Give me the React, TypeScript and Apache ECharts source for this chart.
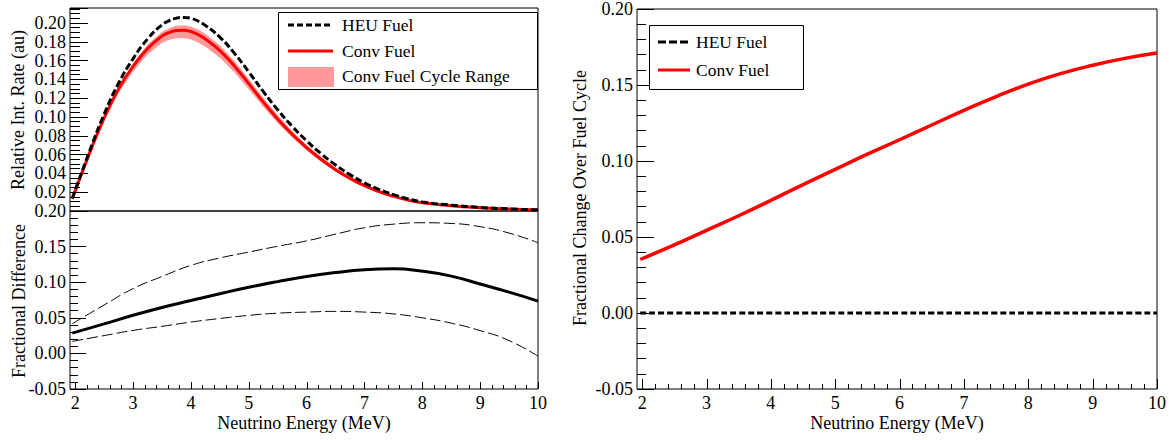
import React, { useEffect, useRef } from "react";
import * as echarts from "echarts";

// ---------- data ----------
const energyTop = [1.95, 2.25, 2.5, 2.75, 3.0, 3.25, 3.5, 3.625, 3.75, 3.875, 4.0, 4.125, 4.25, 4.5, 4.75, 5.0, 5.25, 5.5, 5.75, 6.0, 6.25, 6.5, 6.75, 7.0, 7.25, 7.5, 7.75, 8.0, 8.5, 9.0, 9.5, 10.0];
const heuRate = [0.0135, 0.064, 0.103, 0.136, 0.162, 0.183, 0.198, 0.2025, 0.2052, 0.206, 0.205, 0.202, 0.1975, 0.185, 0.168, 0.148, 0.1272, 0.1077, 0.0902, 0.0747, 0.061, 0.049, 0.0387, 0.030, 0.023, 0.0174, 0.013, 0.0097, 0.0062, 0.0038, 0.0022, 0.0012];
const convRate = [0.0131, 0.0618, 0.0989, 0.1298, 0.1538, 0.1728, 0.1861, 0.1899, 0.192, 0.1923, 0.1909, 0.1876, 0.1830, 0.1707, 0.1544, 0.1355, 0.1161, 0.0979, 0.0817, 0.0675, 0.0550, 0.0440, 0.0347, 0.0269, 0.0206, 0.0156, 0.0116, 0.0087, 0.0056, 0.0035, 0.0020, 0.0011];
const convBandLow = [0.0130, 0.0606, 0.0964, 0.1259, 0.1485, 0.1664, 0.1787, 0.1821, 0.1839, 0.184, 0.1825, 0.1793, 0.1749, 0.1631, 0.1476, 0.1296, 0.1110, 0.0937, 0.0782, 0.0645, 0.0525, 0.0420, 0.0330, 0.0255, 0.0195, 0.0147, 0.0110, 0.0082, 0.0052, 0.0032, 0.0019, 0.0010];
const convBandHigh = [0.0133, 0.0627, 0.1005, 0.1322, 0.1569, 0.1768, 0.1908, 0.1948, 0.1971, 0.1976, 0.1964, 0.1932, 0.1887, 0.1764, 0.1599, 0.1405, 0.1206, 0.1019, 0.0853, 0.0706, 0.0576, 0.0463, 0.0366, 0.0284, 0.0218, 0.0165, 0.0123, 0.0092, 0.0060, 0.0037, 0.0022, 0.0012];

const energyBottom = [1.95, 2.5, 3.0, 3.5, 4.0, 4.5, 5.0, 5.5, 6.0, 6.5, 7.0, 7.5, 8.0, 8.5, 9.0, 9.5, 10.0];
const fracDiff = [0.0285, 0.0415, 0.0535, 0.0645, 0.0742, 0.0838, 0.0928, 0.1008, 0.108, 0.1135, 0.1175, 0.1188, 0.1155, 0.1085, 0.0975, 0.086, 0.0735];
const fracDiffUpper = [0.0417, 0.068, 0.091, 0.108, 0.1236, 0.134, 0.1423, 0.1505, 0.158, 0.1675, 0.1765, 0.1815, 0.1835, 0.1825, 0.178, 0.169, 0.1555];
const fracDiffLower = [0.0169, 0.025, 0.0323, 0.038, 0.044, 0.049, 0.0534, 0.0565, 0.058, 0.059, 0.058, 0.0555, 0.050, 0.0425, 0.032, 0.018, -0.004];

const energyRight = [1.97, 2.5, 3.0, 3.5, 4.0, 4.5, 5.0, 5.5, 6.0, 6.5, 7.0, 7.5, 8.0, 8.5, 9.0, 9.5, 10.0];
const convChange = [0.0352, 0.0448, 0.0544, 0.064, 0.0741, 0.0845, 0.0945, 0.1045, 0.114, 0.1237, 0.1333, 0.1424, 0.1506, 0.1575, 0.163, 0.1675, 0.171];
const heuChange = [0, 0, 0, 0, 0, 0, 0, 0, 0, 0, 0, 0, 0, 0, 0, 0, 0];

const xTickLabels = [2, 3, 4, 5, 6, 7, 8, 9, 10];
const xMinorTicks: number[] = [];
for (let i = 2; i < 10; i++) for (let j = 1; j < 5; j++) xMinorTicks.push(Math.round((i + j * 0.2) * 10) / 10);

const FONT = "'Liberation Serif', 'Times New Roman', serif";

const pairs = (xs: number[], ys: number[]) => xs.map((x, i) => [x, ys[i]]);

export default function App() {
  const ref = useRef<HTMLDivElement>(null);
  useEffect(() => {
    if (!ref.current) return;
    const chart = echarts.init(ref.current, null, { renderer: "svg" });
    const labelStyle = { color: "#000", fontFamily: FONT, fontSize: 18 };
    const yLabel = (showMin: boolean, showMax: boolean) => ({
      ...labelStyle,
      margin: 4,
      showMinLabel: showMin,
      showMaxLabel: showMax,
      formatter: (v: number) => (Math.abs(v) < 1e-9 ? "0.00" : v.toFixed(2)),
    });
    const tickStyle = { color: "#000", width: 1 };
    const noLine = { show: false, onZero: false };

    const legendText = (x: number, y: number, text: string) => ({
      type: "text",
      x,
      y,
      style: { text, font: `17.5px ${FONT}`, fill: "#000", textVerticalAlign: "middle", verticalAlign: "middle", textAlign: "left", align: "left" },
      z: 110,
    });
    const legendLine = (x1: number, x2: number, y: number, color: string, dash: number[] | null) => ({
      type: "line",
      shape: { x1, y1: y, x2, y2: y },
      style: { stroke: color, lineWidth: 3, lineDash: dash || undefined },
      z: 110,
    });
    const rotTitle = (x: number, y: number, text: string) => ({
      type: "text",
      x,
      y,
      rotation: Math.PI / 2,
      style: { text, font: `18px ${FONT}`, fill: "#000", textAlign: "center", align: "center", textVerticalAlign: "middle", verticalAlign: "middle" },
      z: 110,
    });
    const hTitle = (x: number, y: number, text: string) => ({
      type: "text",
      x,
      y,
      style: { text, font: `18px ${FONT}`, fill: "#000", textAlign: "center", align: "center", textVerticalAlign: "middle", verticalAlign: "middle" },
      z: 110,
    });

    const xAxisFor = (gridIndex: number, min: number) => ({
      gridIndex, type: "value", min, max: 10, position: "bottom",
      axisLine: noLine,
      axisTick: { show: false },
      axisLabel: { ...labelStyle, margin: 5, customValues: xTickLabels },
      splitLine: { show: false },
    });

    // x-axis tick marks drawn as bars through the axes' own scales
    const tickBars = (xAxisIndex: number, yAxisIndex: number, values: number[], len: number) => ({
      type: "custom",
      xAxisIndex,
      yAxisIndex,
      silent: true,
      clip: false,
      z: 10,
      data: values.map((v) => [v, -0.05]),
      encode: { x: 0, y: 1 },
      renderItem: (params: any, api: any) => {
        const p = api.coord([api.value(0), api.value(1)]);
        return {
          type: "rect",
          shape: { x: Math.round(p[0]), y: p[1] - len, width: 1, height: len },
          style: { fill: "#000" },
        };
      },
    });

    const option: any = {
      animation: false,
      backgroundColor: "#fff",
      grid: [
        { left: 70, top: 8, width: 468, height: 203, show: true, borderColor: "#000", borderWidth: 1, backgroundColor: "transparent" },
        { left: 70, top: 211, width: 468, height: 178, show: true, borderColor: "#000", borderWidth: 1, backgroundColor: "transparent" },
        { left: 637, top: 8, width: 520, height: 381, show: true, borderColor: "#000", borderWidth: 1, backgroundColor: "transparent" },
      ],
      xAxis: [
        { gridIndex: 0, type: "value", min: 1.91, max: 10, position: "bottom", axisLine: noLine, axisTick: { show: false }, axisLabel: { show: false }, splitLine: { show: false } },
        xAxisFor(1, 1.91),
        xAxisFor(2, 1.92),
      ],
      yAxis: [
        {
          gridIndex: 0, type: "value", min: 0, max: 0.216, interval: 0.02, position: "left",
          axisLine: noLine,
          axisTick: { show: true, inside: true, length: 18, lineStyle: tickStyle },
          minorTick: { show: true, splitNumber: 4, length: 10, lineStyle: tickStyle },
          axisLabel: yLabel(false, false),
          splitLine: { show: false },
        },
        {
          gridIndex: 1, type: "value", min: -0.05, max: 0.2, interval: 0.05, position: "left",
          axisLine: noLine,
          axisTick: { show: true, inside: true, length: 16, lineStyle: tickStyle },
          minorTick: { show: true, splitNumber: 5, length: 8, lineStyle: tickStyle },
          axisLabel: yLabel(true, true),
          splitLine: { show: false },
        },
        {
          gridIndex: 2, type: "value", min: -0.05, max: 0.2, interval: 0.05, position: "left",
          axisLine: noLine,
          axisTick: { show: true, inside: true, length: 17, lineStyle: tickStyle },
          minorTick: { show: true, splitNumber: 5, length: 9, lineStyle: tickStyle },
          axisLabel: yLabel(true, true),
          splitLine: { show: false },
        },
      ],
      series: [
        {
          name: "Conv Fuel Cycle Range", type: "custom", xAxisIndex: 0, yAxisIndex: 0, silent: true, z: 1,
          data: energyTop.map((e, i) => [e, convBandLow[i], convBandHigh[i]]),
          encode: { x: 0, y: [1, 2] },
          renderItem: (params: any, api: any) => {
            if (params.dataIndex !== 0) return { type: "group", children: [] };
            const upper = energyTop.map((e, i) => api.coord([e, convBandHigh[i]]));
            const lower = energyTop.map((e, i) => api.coord([e, convBandLow[i]])).reverse();
            return {
              type: "polygon",
              shape: { points: upper.concat(lower) },
              style: { fill: "#ff9999", stroke: "none" },
            };
          },
        },
        {
          name: "Conv Fuel", type: "line", xAxisIndex: 0, yAxisIndex: 0, smooth: true, symbol: "none",
          lineStyle: { color: "#ff0000", width: 3 }, data: pairs(energyTop, convRate), z: 2,
        },
        {
          name: "HEU Fuel", type: "line", xAxisIndex: 0, yAxisIndex: 0, smooth: true, symbol: "none",
          lineStyle: { color: "#000", width: 3, type: [7, 3] }, data: pairs(energyTop, heuRate), z: 3,
        },
        {
          name: "fracUpper", type: "line", xAxisIndex: 1, yAxisIndex: 1, smooth: true, symbol: "none",
          lineStyle: { color: "#000", width: 1, type: [11, 4] }, data: pairs(energyBottom, fracDiffUpper),
        },
        {
          name: "fracLower", type: "line", xAxisIndex: 1, yAxisIndex: 1, smooth: true, symbol: "none",
          lineStyle: { color: "#000", width: 1, type: [11, 4] }, data: pairs(energyBottom, fracDiffLower),
        },
        {
          name: "fracDiff", type: "line", xAxisIndex: 1, yAxisIndex: 1, smooth: true, symbol: "none",
          lineStyle: { color: "#000", width: 3 }, data: pairs(energyBottom, fracDiff),
        },
        {
          name: "Conv Fuel change", type: "line", xAxisIndex: 2, yAxisIndex: 2, smooth: true, symbol: "none",
          lineStyle: { color: "#ff0000", width: 3.5 }, data: pairs(energyRight, convChange),
        },
        {
          name: "HEU Fuel change", type: "line", xAxisIndex: 2, yAxisIndex: 2, smooth: true, symbol: "none",
          lineStyle: { color: "#000", width: 3, type: [6, 3] }, data: pairs(energyRight, heuChange),
        },
        tickBars(1, 1, xTickLabels, 7),
        tickBars(1, 1, xMinorTicks, 4),
        tickBars(2, 2, xTickLabels, 10),
        tickBars(2, 2, xMinorTicks, 5),
      ],
      graphic: [
        rotTitle(18, 110, "Relative Int. Rate (au)"),
        rotTitle(19, 301, "Fractional Difference"),
        rotTitle(580, 198, "Fractional Change Over Fuel Cycle"),
        hTitle(304, 423, "Neutrino Energy (MeV)"),
        hTitle(897, 423, "Neutrino Energy (MeV)"),
        {
          type: "rect", shape: { x: 278.5, y: 12.5, width: 259, height: 77 },
          style: { fill: "#fff", stroke: "#000", lineWidth: 1 }, z: 100,
        },
        legendLine(288, 333, 25, "#000", [6, 3]),
        legendText(342, 25, "HEU Fuel"),
        legendLine(288, 333, 51, "#ff0000", null),
        legendText(342, 51, "Conv Fuel"),
        { type: "rect", shape: { x: 288, y: 67, width: 46, height: 20 }, style: { fill: "#ff9999" }, z: 110 },
        legendText(342, 76, "Conv Fuel Cycle Range"),
        {
          type: "rect", shape: { x: 649.5, y: 25.5, width: 154, height: 64 },
          style: { fill: "#fff", stroke: "#000", lineWidth: 1 }, z: 100,
        },
        legendLine(658, 690, 42, "#000", [8, 3]),
        legendText(696, 42, "HEU Fuel"),
        legendLine(658, 690, 70, "#ff0000", null),
        legendText(696, 70, "Conv Fuel"),
      ],
    };
    chart.setOption(option);
    return () => chart.dispose();
  }, []);
  return (
    <div
      ref={ref}
      style={{ position: "fixed", left: 0, top: 0, width: 1169, height: 440, background: "#fff" }}
    />
  );
}
